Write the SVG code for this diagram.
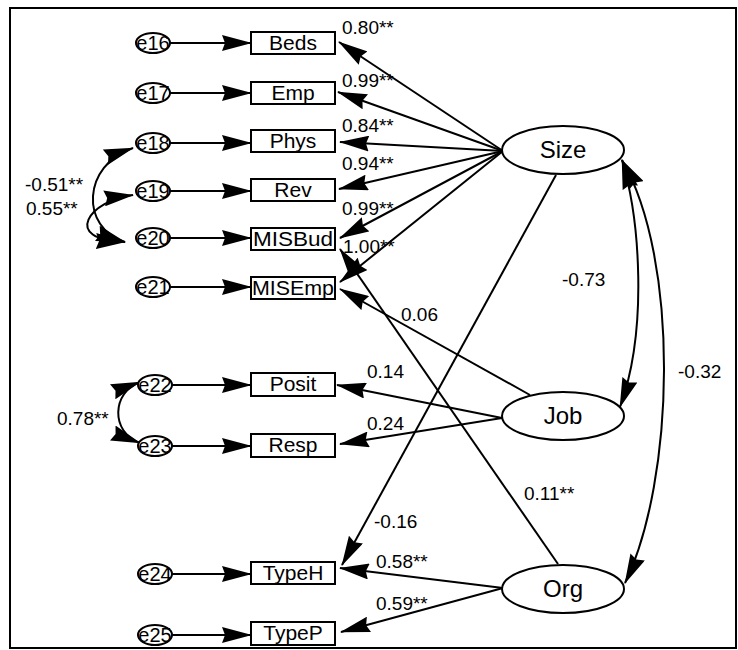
<svg xmlns="http://www.w3.org/2000/svg" width="738" height="650" viewBox="0 0 738 650">
<style>
.ln{stroke:#000;stroke-width:2;fill:none}
.arr{marker-end:url(#ah)}
.dbl{marker-start:url(#ah);marker-end:url(#ah)}
.box{fill:#fff;stroke:#000;stroke-width:2}
.ell{fill:#fff;stroke:#000;stroke-width:2}
text{font-family:"Liberation Sans",Arial,sans-serif;fill:#000}
.bt{font-size:21px;text-anchor:middle}
.et{font-size:20px;text-anchor:middle}
.lt{font-size:24px;text-anchor:middle}
.nl{font-size:19px}
</style>
<defs>
<marker id="ah" viewBox="0 0 30 16" refX="29" refY="8" markerWidth="30" markerHeight="16" markerUnits="userSpaceOnUse" orient="auto-start-reverse">
<path d="M0,0 L30,8 L0,16 L3,8 z" fill="#000"/>
</marker>
</defs>
<rect x="10" y="8" width="726" height="640" fill="none" stroke="#000" stroke-width="2"/>
<g id="connectors">
<line class="ln arr" x1="170" y1="43" x2="251" y2="43"/>
<line class="ln arr" x1="170" y1="93" x2="251" y2="93"/>
<line class="ln arr" x1="170" y1="143" x2="251" y2="143"/>
<line class="ln arr" x1="170" y1="191" x2="251" y2="191"/>
<line class="ln arr" x1="170" y1="238" x2="251" y2="238"/>
<line class="ln arr" x1="170" y1="287" x2="251" y2="287"/>
<line class="ln arr" x1="172" y1="385" x2="251" y2="385"/>
<line class="ln arr" x1="172" y1="446" x2="251" y2="446"/>
<line class="ln arr" x1="172" y1="574" x2="251" y2="574"/>
<line class="ln arr" x1="172" y1="635" x2="251" y2="635"/>
<line class="ln arr" x1="503" y1="151" x2="339" y2="42"/>
<line class="ln arr" x1="503" y1="151" x2="338" y2="92"/>
<line class="ln arr" x1="503" y1="151" x2="340" y2="142"/>
<line class="ln arr" x1="503" y1="151" x2="339" y2="189"/>
<line class="ln arr" x1="503" y1="151" x2="340" y2="238"/>
<line class="ln arr" x1="503" y1="151" x2="340" y2="282"/>
<line class="ln arr" x1="556" y1="175" x2="342" y2="565"/>
<line class="ln arr" x1="530" y1="395" x2="340" y2="289"/>
<line class="ln arr" x1="502" y1="418" x2="337" y2="385"/>
<line class="ln arr" x1="502" y1="418" x2="340" y2="444"/>
<line class="ln arr" x1="558" y1="564" x2="340" y2="249"/>
<line class="ln arr" x1="503" y1="588" x2="340" y2="568"/>
<line class="ln arr" x1="503" y1="588" x2="341" y2="632"/>
<path class="ln dbl" d="M133,148 C82,165 80,228 125,242"/>
<path class="ln dbl" d="M133,195 C90,200 60,240 125,242"/>
<path class="ln dbl" d="M140,382 C112,392 110,432 140,443"/>
<path class="ln dbl" d="M622,160 C640,220 648,330 620,407"/>
<path class="ln dbl" d="M622,160 C680,260 675,480 625,583"/>
</g>
<g id="edge-labels">
<text class="nl" x="342" y="34">0.80**</text>
<text class="nl" x="342" y="87">0.99**</text>
<text class="nl" x="342" y="132">0.84**</text>
<text class="nl" x="342" y="170">0.94**</text>
<text class="nl" x="342" y="215">0.99**</text>
<text class="nl" x="343" y="253">1.00**</text>
<text class="nl" x="401" y="321">0.06</text>
<text class="nl" x="367" y="378">0.14</text>
<text class="nl" x="367" y="430">0.24</text>
<text class="nl" x="524" y="500">0.11**</text>
<text class="nl" x="374" y="528">-0.16</text>
<text class="nl" x="376" y="568">0.58**</text>
<text class="nl" x="376" y="610">0.59**</text>
<text class="nl" x="562" y="286">-0.73</text>
<text class="nl" x="678" y="378">-0.32</text>
<text class="nl" x="25" y="191">-0.51**</text>
<text class="nl" x="26" y="215">0.55**</text>
<text class="nl" x="57" y="425">0.78**</text>
</g>
<g id="e16"><ellipse class="ell" cx="153" cy="43" rx="17" ry="10"/><text class="et" x="153" y="50">e16</text></g>
<g id="e17"><ellipse class="ell" cx="153" cy="93" rx="17" ry="10"/><text class="et" x="153" y="100">e17</text></g>
<g id="e18"><ellipse class="ell" cx="153" cy="143" rx="17" ry="10"/><text class="et" x="153" y="150">e18</text></g>
<g id="e19"><ellipse class="ell" cx="153" cy="191" rx="17" ry="10"/><text class="et" x="153" y="198">e19</text></g>
<g id="e20"><ellipse class="ell" cx="153" cy="238" rx="17" ry="10"/><text class="et" x="153" y="245">e20</text></g>
<g id="e21"><ellipse class="ell" cx="153" cy="287" rx="17" ry="10"/><text class="et" x="153" y="294">e21</text></g>
<g id="e22"><ellipse class="ell" cx="155" cy="385" rx="17" ry="10"/><text class="et" x="155" y="392">e22</text></g>
<g id="e23"><ellipse class="ell" cx="155" cy="446" rx="17" ry="10"/><text class="et" x="155" y="453">e23</text></g>
<g id="e24"><ellipse class="ell" cx="155" cy="574" rx="17" ry="10"/><text class="et" x="155" y="581">e24</text></g>
<g id="e25"><ellipse class="ell" cx="155" cy="635" rx="17" ry="10"/><text class="et" x="155" y="642">e25</text></g>
<g id="Beds"><rect class="box" x="251" y="32" width="84" height="22"/><text class="bt" x="293" y="50">Beds</text></g>
<g id="Emp"><rect class="box" x="251" y="82" width="84" height="22"/><text class="bt" x="293" y="100">Emp</text></g>
<g id="Phys"><rect class="box" x="251" y="130" width="84" height="22"/><text class="bt" x="293" y="148">Phys</text></g>
<g id="Rev"><rect class="box" x="251" y="179" width="84" height="22"/><text class="bt" x="293" y="197">Rev</text></g>
<g id="MISBud"><rect class="box" x="251" y="228" width="84" height="22"/><text class="bt" x="293" y="246" textLength="80" lengthAdjust="spacingAndGlyphs">MISBud</text></g>
<g id="MISEmp"><rect class="box" x="251" y="277" width="84" height="22"/><text class="bt" x="293" y="295" textLength="82" lengthAdjust="spacingAndGlyphs">MISEmp</text></g>
<g id="Posit"><rect class="box" x="251" y="373" width="84" height="23"/><text class="bt" x="293" y="391">Posit</text></g>
<g id="Resp"><rect class="box" x="251" y="434" width="84" height="23"/><text class="bt" x="293" y="452">Resp</text></g>
<g id="TypeH"><rect class="box" x="251" y="562" width="84" height="22"/><text class="bt" x="293" y="580">TypeH</text></g>
<g id="TypeP"><rect class="box" x="251" y="622" width="84" height="23"/><text class="bt" x="293" y="640">TypeP</text></g>
<g id="Size"><ellipse class="ell" cx="563" cy="150" rx="61" ry="24"/><text class="lt" x="563" y="158">Size</text></g>
<g id="Job"><ellipse class="ell" cx="563" cy="416" rx="61" ry="24"/><text class="lt" x="563" y="424">Job</text></g>
<g id="Org"><ellipse class="ell" cx="563" cy="589" rx="61" ry="24"/><text class="lt" x="563" y="597">Org</text></g>
</svg>
